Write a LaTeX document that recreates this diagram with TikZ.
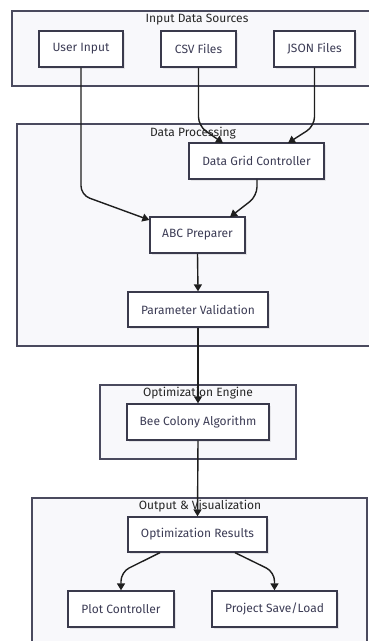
\documentclass[tikz,border=0pt]{standalone}
\usepackage{fontspec}
\setmainfont{Fira Sans}
\usetikzlibrary{arrows.meta,shadows}
\definecolor{clfill}{HTML}{F8F8FB}
\definecolor{cldraw}{HTML}{4A4A5E}
\definecolor{nddraw}{HTML}{3A3A4C}
\definecolor{txt}{HTML}{3C3C55}
\definecolor{edge}{HTML}{1E1E1E}
\begin{document}
\begin{tikzpicture}[x=1pt,y=-1pt,
  cluster/.style={draw=cldraw,fill=clfill,line width=1.2pt},
  cltitle/.style={text=black!85,font=\fontsize{12}{14}\selectfont,inner sep=0pt},
  box/.style={draw=nddraw,fill=white,line width=1.3pt,inner sep=0pt,minimum height=36pt,
    text=txt,font=\fontsize{12}{14}\selectfont,
    drop shadow={shadow xshift=2pt,shadow yshift=-2pt,fill=black,opacity=0.08}},
  arr/.style={draw=edge,line width=1.4pt,rounded corners=9pt,-{Triangle[length=7pt,width=8pt]}}]
\useasboundingbox (0,0) rectangle (369,641);
% clusters
\path[cluster] (12,11) rectangle (375,86);
\path[cluster] (17,124) rectangle (375,346);
\path[cluster] (100,385) rectangle (296,459);
\path[cluster] (32,498) rectangle (367,650);
\node[cltitle] (t1) at (197,20) {Input Data Sources};
\node[cltitle] (t2) at (193,133) {Data Processing};
\node[cltitle] (t3) at (198,393) {Optimization Engine};
\node[cltitle] (t4) at (200,506) {Output \& Visualization};
% nodes
\node[box,minimum width=84pt] (ui) at (81,49) {User Input};
\node[box,minimum width=75pt] (csv) at (198.5,49) {CSV Files};
\node[box,minimum width=81pt] (json) at (314.5,49) {JSON Files};
\node[box,minimum width=135pt] (dgc) at (256.5,161) {Data Grid Controller};
\node[box,minimum width=95pt] (abc) at (197.5,235) {ABC Preparer};
\node[box,minimum width=140pt,minimum height=35pt] (pv) at (198,309.5) {Parameter Validation};
\node[box,minimum width=142pt] (bee) at (198,422) {Bee Colony Algorithm};
\node[box,minimum width=139pt,minimum height=35pt] (or) at (197.5,534.5) {Optimization Results};
\node[box,minimum width=106pt] (pc) at (121,609) {Plot Controller};
\node[box,minimum width=125pt] (psl) at (274.5,609) {Project Save/Load};
% edges
\draw[arr] (ui.south) -- (81,195) -- (abc.north west |- 0,220);
\draw[arr] (csv.south) -- (198.5,126) -- (223,143);
\draw[arr] (json.south) -- (314.5,126) -- (288,143);
\draw[arr] (dgc.south -| 257,0) -- (257,196) -- (230,217);
\draw[arr] (abc.south) -- (pv.north);
\draw[arr] (pv.south) -- (bee.north);
\draw[arr] (bee.south) -- (or.north);
\draw[arr] (or.south -| 160,0) -- (121,572) -- (pc.north);
\draw[arr] (or.south -| 235,0) -- (274.5,572) -- (psl.north);
\end{tikzpicture}
\end{document}
